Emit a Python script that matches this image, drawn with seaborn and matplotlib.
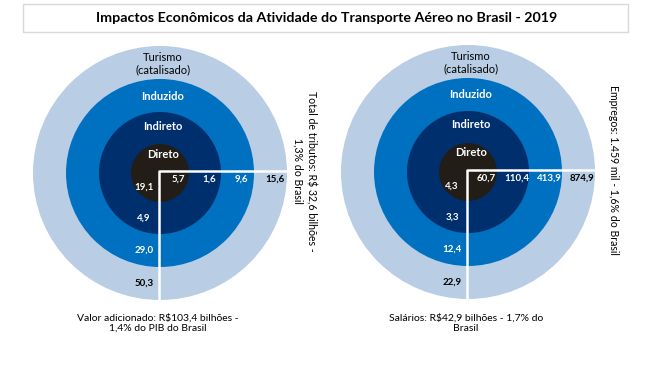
import matplotlib
matplotlib.use("Agg")
import matplotlib.pyplot as plt
from matplotlib.patches import Circle, Rectangle
import seaborn as sns

# ---- data ----
rings = ["Direto", "Indireto", "Induzido", "Turismo\n(catalisado)"]
tributos = [5.7, 1.6, 9.6, 15.6]          # right arm, left panel
valor_adicionado = [19.1, 4.9, 29.0, 50.3]  # down arm, left panel
empregos = [60.7, 110.4, 413.9, 874.9]    # right arm, right panel
salarios = [4.3, 3.3, 12.4, 22.9]         # down arm, right panel

title = "Impactos Econômicos da Atividade do Transporte Aéreo no Brasil - 2019"

# ---- style ----
sns.set_theme(style="white")
plt.rcParams["font.family"] = ["Lato", "DejaVu Sans"]

ring_colors = ["#221d16", "#002f6e", "#0070c0", "#b9cde5"]
label_colors = ["white", "white", "white", "black"]
name_weights = ["bold", "bold", "bold", "normal"]
radii = [29, 61, 94, 127]   # pixel units
name_dy = [-19, -47, -77, -109]


def fmt(v):
    return f"{v:.1f}".replace(".", ",")


fig = plt.figure(figsize=(6.54, 3.72), dpi=100)
ax = fig.add_axes([0, 0, 1, 1])
ax.set_xlim(0, 654)
ax.set_ylim(372, 0)
ax.axis("off")

# title box
ax.add_patch(Rectangle((23, 4), 605, 28, facecolor="white", edgecolor="#d9d9d9", lw=1))
ax.text(327, 18, title, ha="center", va="center", fontsize=10.3, fontweight="bold", color="black")


def panel(cx, cy, right_vals, down_vals):
    # rings, outermost first
    for r, c in reversed(list(zip(radii, ring_colors))):
        ax.add_patch(Circle((cx, cy), r, facecolor=c, edgecolor="none"))

    # white quadrant lines (corner slightly up-left of the ring centre)
    lx, ly = cx - 1, cy - 2
    sns.lineplot(x=[cx + radii[-1], lx, lx], y=[ly, ly, cy + radii[-1]], sort=False,
                 estimator=None, color="white", lw=1.8, ax=ax)

    inner = [0] + radii[:-1]
    for i, name in enumerate(rings):
        mid = (inner[i] + radii[i]) / 2
        ax.text(cx + 3, cy + name_dy[i], name, ha="center", va="center",
                fontsize=8, fontweight=name_weights[i], color=label_colors[i], linespacing=1.15)
        ax.text(cx + mid + 4, ly + 8, fmt(right_vals[i]), ha="center", va="center",
                fontsize=7, fontweight="bold", color=label_colors[i])
        ax.text(lx - 15, cy + mid, fmt(down_vals[i]), ha="center", va="center",
                fontsize=7, fontweight="bold", color=label_colors[i])


panel(160, 173, tributos, valor_adicionado)
panel(468, 172, empregos, salarios)

# side / bottom captions
ax.text(305, 171, "Total de tributos: R$ 32,6 bilhões -\n1,3% do Brasil", rotation=-90,
        ha="center", va="center", fontsize=7.6, color="black", multialignment="center")
ax.text(613, 170, "Empregos: 1.459 mil - 1,6% do Brasil", rotation=-90,
        ha="center", va="center", fontsize=7.6, color="black")
ax.text(158, 323, "Valor adicionado: R$103,4 bilhões -\n1,4% do PIB do Brasil",
        ha="center", va="center", fontsize=7.5, color="black", multialignment="center")
ax.text(466, 323, "Salários: R$42,9 bilhões - 1,7% do\nBrasil",
        ha="center", va="center", fontsize=7.5, color="black", multialignment="center")

if ax.get_legend() is not None:
    ax.get_legend().remove()

fig.savefig("out.png", dpi=100)
